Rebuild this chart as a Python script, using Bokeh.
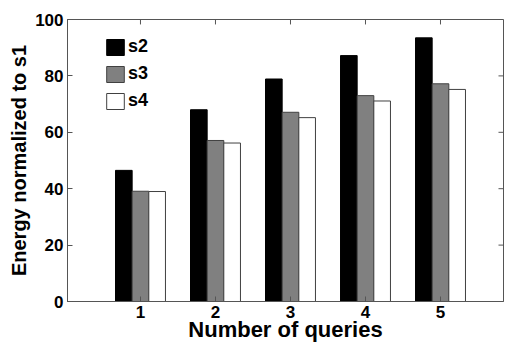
from bokeh.plotting import figure
from bokeh.models import Range1d, FixedTicker, Legend, LegendItem, ColumnDataSource
from bokeh.transform import dodge
from bokeh.embed import file_html
from bokeh.resources import INLINE

queries = [1, 2, 3, 4, 5]
s2 = [46.5, 68.0, 78.9, 87.2, 93.5]
s3 = [39.1, 57.1, 67.1, 73.0, 77.2]
s4 = [39.0, 56.2, 65.2, 71.1, 75.2]
series_names = ["s2", "s3", "s4"]
y_ticks = [0, 20, 40, 60, 80, 100]
x_label = "Number of queries"
y_label = "Energy normalized to s1"

FONT = "Liberation Sans"
AX = "#555555"
source = ColumnDataSource(dict(q=queries, s2=s2, s3=s3, s4=s4))

x_start, x_end = 0.027, 5.84
y_start, y_end = 0, 100
p = figure(width=504, height=344, output_backend="svg", toolbar_location=None,
           x_range=Range1d(x_start, x_end), y_range=Range1d(y_start, y_end),
           min_border_left=67, min_border_right=1, min_border_top=19, min_border_bottom=40)
p.grid.visible = False
p.outline_line_color = AX
p.outline_line_width = 1

w = 0.222
fills = ["black", "#808080", "white"]
lines = ["black", "#404040", "#404040"]
offs = [-w, 0, w]
renderers = []
for name, fc, lc, off in zip(series_names, fills, lines, offs):
    r = p.vbar(x=dodge("q", off, range=p.x_range), top=name, width=w, bottom=0,
               source=source, fill_color=fc, line_color=lc, line_width=1)
    renderers.append(r)

for ax in (p.xaxis[0], p.yaxis[0]):
    ax.major_tick_in = 5
    ax.major_tick_out = 0
    ax.minor_tick_line_color = None
    ax.axis_line_color = AX
    ax.major_tick_line_color = AX
    ax.major_label_text_font = FONT
    ax.major_label_text_font_style = "bold"
    ax.major_label_text_font_size = "17px"
    ax.major_label_text_color = "black"
    ax.axis_label_text_font = FONT
    ax.axis_label_text_font_style = "bold"
    ax.axis_label_text_color = "black"

p.xaxis[0].ticker = FixedTicker(ticks=queries)
p.yaxis[0].ticker = FixedTicker(ticks=y_ticks)
p.xaxis[0].axis_label = x_label
p.yaxis[0].axis_label = y_label
p.xaxis[0].axis_label_text_font_size = "22px"
p.yaxis[0].axis_label_text_font_size = "20px"
p.xaxis[0].major_label_standoff = 4
p.xaxis[0].axis_label_standoff = -4
p.yaxis[0].major_label_standoff = 4
p.yaxis[0].axis_label_standoff = 2

# inward ticks on the top and right edges (MATLAB box style)
tick_dy = 5 / 2.85
tick_dx = 5 / 75.0
p.segment(x0=queries, x1=queries, y0=[y_end] * len(queries), y1=[y_end - tick_dy] * len(queries),
          line_color=AX, line_width=1)
p.segment(x0=[x_end] * len(y_ticks), x1=[x_end - tick_dx] * len(y_ticks), y0=y_ticks, y1=y_ticks,
          line_color=AX, line_width=1)

legend = Legend(items=[LegendItem(label=n, renderers=[r]) for n, r in zip(series_names, renderers)],
                location=(37, 190), padding=0, margin=0, spacing=6,
                glyph_width=22, glyph_height=20, label_height=20, label_standoff=2,
                label_text_font=FONT, label_text_font_style="bold", label_text_font_size="18px",
                label_text_color="black",
                border_line_color=None, background_fill_alpha=0)
p.add_layout(legend, "center")

open("out.html", "w").write(file_html(p, INLINE))
